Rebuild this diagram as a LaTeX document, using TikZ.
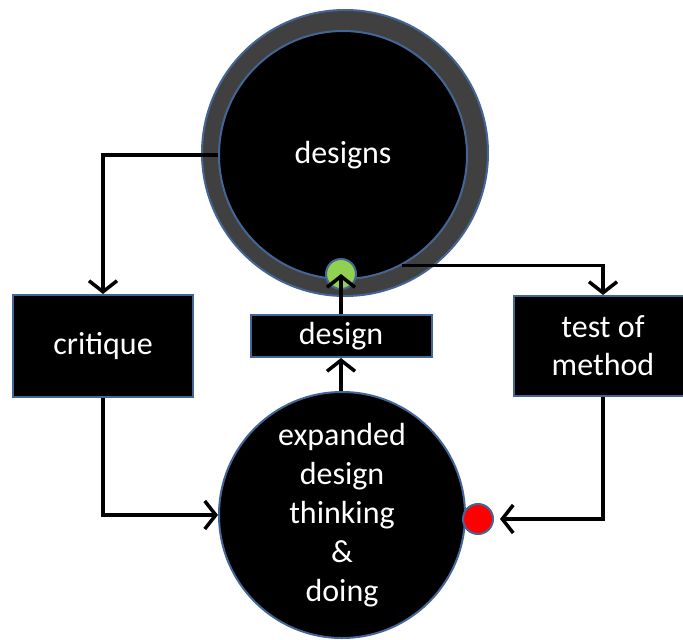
\documentclass[tikz,border=0pt]{standalone}
\usepackage{fontspec}
\setmainfont{Carlito}
\usetikzlibrary{arrows.meta}
\definecolor{rim}{RGB}{68,102,150}
\definecolor{ringgray}{RGB}{64,64,64}
\definecolor{dotgreen}{RGB}{146,208,80}
\tikzstyle{every node}=[text=white,font=\fontsize{32}{38}\selectfont,inner sep=0pt]
\tikzstyle{blob}=[circle,fill=black,draw=rim,line width=2pt,align=center]
\tikzstyle{box}=[rectangle,fill=black,draw=rim,line width=2pt,align=center]
\tikzstyle{dot}=[circle,draw=rim,line width=2pt,minimum size=30pt]
\tikzstyle{flow}=[line width=3.5pt,-{Straight Barb[length=11pt,width=28pt]}]

\begin{document}
\begin{tikzpicture}[x=1pt,y=-1pt]
\useasboundingbox (0,0) rectangle (683,640);
% top circle with its grey ring
\node[blob,fill=ringgray,minimum size=286pt] (ring) at (345,153) {};
\node[blob,minimum size=248pt] (designs) at (343,155) {designs};
\node[dot,fill=dotgreen] (in) at (341,274) {};
% boxes
\node[box,minimum width=180pt,minimum height=102pt] (critique) at (103,346) {critique};
\node[box,minimum width=181pt,minimum height=42pt] (design) at (341,336) {design};
\node[box,minimum width=178pt,minimum height=100pt] (test) at (603,346) {test of\\method};
% lower circle
\node[blob,minimum size=246pt,font=\fontsize{32}{39}\selectfont] (doing) at (342,515) {expanded\\design\\thinking\\\&\\doing};
\node[dot,fill=red] (fail) at (478,519) {};
% connectors
\draw[flow] (designs.west) -| (critique.north);
\draw[flow] (critique.south) |- (doing.west);
\draw[flow] (doing.north -| design.south) -- (design.south);
\draw[flow] (design.north) -- (in.center);
\draw[flow] (designs.-62) -| (test.north);
\draw[flow,shorten >=6pt] (test.south) |- (fail.east);
\end{tikzpicture}
\end{document}
